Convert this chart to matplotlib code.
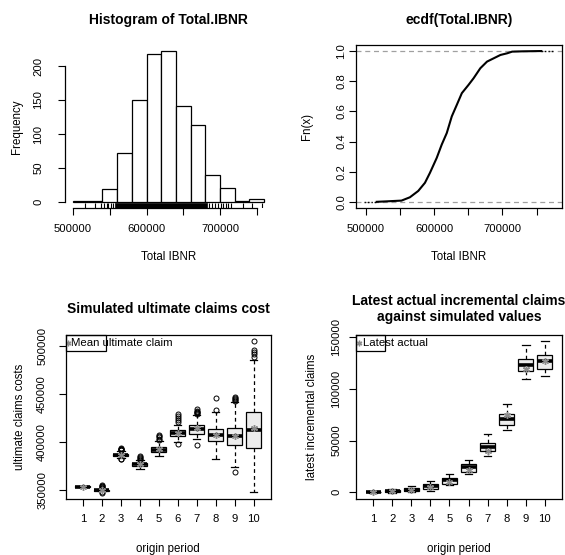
import matplotlib
matplotlib.use("Agg")
import matplotlib.pyplot as plt
from matplotlib.patches import Rectangle

plt.rcParams['font.family'] = ['Liberation Sans', 'DejaVu Sans']

# ---------------- data ----------------
hist_breaks = [500000, 520000, 540000, 560000, 580000, 600000, 620000, 640000,
               660000, 680000, 700000, 720000, 740000, 760000]
hist_counts = [1, 2, 19, 72, 150, 218, 222, 141, 113, 39, 20, 1, 4]

rug_sparse = [516300, 530000, 538000, 542600, 545800, 548000, 551300, 554000,
              685400, 688600, 693100, 697600, 701300, 704400, 708100, 711200,
              714500, 731600, 743000, 756600]
rug_dense_range = [557000, 682000]

ecdf_x = [516300, 530400, 552400, 564700, 576900, 586700, 594000, 603900, 611200,
          618600, 625900, 633300, 640600, 650400, 657800, 667600, 677400, 687200,
          697000, 706800, 714100, 728800, 743000, 756600]
ecdf_y = [0.001, 0.004, 0.009, 0.031, 0.073, 0.127, 0.193, 0.292, 0.380,
          0.457, 0.567, 0.644, 0.721, 0.776, 0.820, 0.886, 0.930, 0.952,
          0.974, 0.985, 0.996, 0.998, 0.999, 1.0]

origins = [1, 2, 3, 4, 5, 6, 7, 8, 9, 10]

ult_q1 = [353600, 349700, 386000, 375800, 390300, 407000, 409000, 401000, 397500, 394500]
ult_med = [353800, 350000, 387000, 377000, 392400, 410000, 414000, 407500, 406500, 413000]
ult_q3 = [354000, 350300, 388000, 378200, 394600, 413000, 418000, 413500, 415000, 431500]
ult_wlo = [353200, 349000, 383500, 372400, 385500, 400500, 403000, 383000, 374500, 348500]
ult_whi = [354400, 351000, 391000, 381500, 401000, 418000, 428000, 432000, 442000, 485500]
ult_fliers = [[],
              [352000, 352500, 353000, 354000, 355000, 355800, 348000, 347600],
              [391500, 392000, 392500, 393000, 393500, 394000, 383000, 382700],
              [382000, 383000, 384000, 385000, 386000],
              [402000, 403500, 405000, 406500, 408000],
              [421000, 423000, 425000, 427000, 429500, 398000],
              [429000, 430000, 431000, 432000, 433000, 434500, 397000],
              [434000, 446000],
              [443000, 444000, 445000, 446000, 447000, 369000],
              [489000, 491500, 493500, 495500, 505000]]
ult_mean = [353800, 350000, 387000, 377000, 392500, 410000, 414500, 408000, 407000, 414800]

inc_q1 = [0, 700, 1300, 3200, 8400, 20000, 39700, 65500, 117100, 119400]
inc_med = [200, 1300, 2600, 5800, 11600, 24500, 44000, 70500, 123500, 126800]
inc_q3 = [500, 2000, 3900, 8100, 14200, 27100, 47700, 75800, 129000, 133200]
inc_wlo = [-400, -300, 0, 1300, 7100, 17700, 35500, 60000, 109700, 112900]
inc_whi = [1200, 3200, 5800, 10600, 17700, 31600, 56500, 85200, 142300, 146100]
inc_actual = [300, 1300, 1900, 5200, 9700, 21900, 39700, 75200, 119400, 126800]

# ---------------- layout helpers ----------------
W, H, DPI = 565, 555, 100
fig = plt.figure(figsize=(W / DPI, H / DPI), dpi=DPI)


def add_ax(l, t, r, b):
    return fig.add_axes([l / W, 1 - b / H, (r - l) / W, (b - t) / H])


def ftext(x, y, s, **kw):
    fig.text(x / W, 1 - y / H, s, **kw)


TICK_FS = 8.1
TITLE_FS = 10.0
LAB_FS = 8.3
GRAY = '#8c8c8c'


def style(ax, ypad, xpad=6.5):
    ax.tick_params(direction='out', length=4.8, width=0.8, labelsize=TICK_FS,
                   color='black')
    ax.tick_params(axis='y', pad=ypad, labelrotation=90)
    ax.tick_params(axis='x', pad=xpad)
    for lbl in ax.get_yticklabels():
        lbl.set_va('center')
    for sp in ax.spines.values():
        sp.set_linewidth(0.9)


# ---------------- panel 1: histogram ----------------
ax1 = add_ax(65.4, 45, 271.8, 208)
lefts = hist_breaks[:-1]
widths = [hist_breaks[i + 1] - hist_breaks[i] for i in range(len(lefts))]
ax1.bar(lefts, hist_counts, width=widths, align='edge', facecolor='white',
        edgecolor='black', linewidth=0.9)
xr = hist_breaks[-1] - hist_breaks[0]
ax1.set_xlim(hist_breaks[0] - 0.04 * xr, hist_breaks[-1] + 0.04 * xr)
ymax = max(hist_counts)
ax1.set_ylim(-0.04 * ymax, ymax * 1.04)
ax1.vlines(rug_sparse, 0, 0.03, transform=ax1.get_xaxis_transform(),
           color='black', linewidth=0.8)
ax1.add_patch(Rectangle((rug_dense_range[0], 0), rug_dense_range[1] - rug_dense_range[0],
                        0.03, transform=ax1.get_xaxis_transform(),
                        facecolor='black', edgecolor='black', linewidth=0.5))
ax1.set_xticks([500000, 550000, 600000, 650000, 700000, 750000])
ax1.set_xticklabels(['500000', '', '600000', '', '700000', ''])
ax1.set_yticks([0, 50, 100, 150, 200])
ax1.spines['top'].set_visible(False)
ax1.spines['right'].set_visible(False)
ax1.spines['bottom'].set_bounds(500000, 750000)
ax1.spines['left'].set_bounds(0, 200)
style(ax1, ypad=11)
ftext(168.6, 20, 'Histogram of Total.IBNR', ha='center', va='center',
      fontsize=TITLE_FS, fontweight='bold')
ftext(168.6, 257, 'Total IBNR', ha='center', va='center', fontsize=LAB_FS)
ftext(17, 126.5, 'Frequency', ha='center', va='center', fontsize=LAB_FS, rotation=90)

# ---------------- panel 2: ecdf ----------------
ax2 = add_ax(356, 45, 562, 208)
kmin, kmax = ecdf_x[0], ecdf_x[-1]
dr = 0.08 * (kmax - kmin)
lo, hi = kmin - dr, kmax + dr
pad = 0.04 * (hi - lo)
ax2.set_xlim(lo - pad, hi + pad)
ax2.set_ylim(-0.04, 1.04)
ax2.axhline(0, color='#a0a0a0', linestyle=(0, (4, 3)), linewidth=0.9)
ax2.axhline(1, color='#a0a0a0', linestyle=(0, (4, 3)), linewidth=0.9)
ax2.plot([lo, kmin], [0, 0], color='black', linewidth=1.0, linestyle=(0, (1, 1.5)))
ax2.plot([kmax, hi], [1, 1], color='black', linewidth=1.0, linestyle=(0, (1, 1.5)))
ax2.plot(ecdf_x, ecdf_y, color='black', linewidth=1.5)
ax2.set_xticks([500000, 550000, 600000, 650000, 700000, 750000])
ax2.set_xticklabels(['500000', '', '600000', '', '700000', ''])
ax2.set_yticks([0, 0.2, 0.4, 0.6, 0.8, 1.0])
ax2.set_yticklabels(['0.0', '0.2', '0.4', '0.6', '0.8', '1.0'])
style(ax2, ypad=2)
ftext(459, 20, 'ecdf(Total.IBNR)', ha='center', va='center',
      fontsize=TITLE_FS, fontweight='bold')
ftext(459, 257, 'Total IBNR', ha='center', va='center', fontsize=LAB_FS)
ftext(307, 126.5, 'Fn(x)', ha='center', va='center', fontsize=LAB_FS, rotation=90)


# ---------------- boxplot helper ----------------
def draw_box(ax, q1, med, q3, wlo, whi, fliers, pts):
    stats = []
    for i in range(len(origins)):
        stats.append(dict(med=med[i], q1=q1[i], q3=q3[i], whislo=wlo[i],
                          whishi=whi[i], fliers=fliers[i], label=str(origins[i])))
    ax.bxp(stats, positions=origins, widths=0.8, patch_artist=True,
           showfliers=True, capwidths=0.4,
           boxprops=dict(facecolor='#ececec', edgecolor='black', linewidth=0.9),
           whiskerprops=dict(color='black', linestyle=(0, (3, 2.5)), linewidth=0.9),
           capprops=dict(color='black', linewidth=0.9),
           medianprops=dict(color='black', linewidth=2.6),
           flierprops=dict(marker='o', markersize=3.6, markerfacecolor='none',
                           markeredgecolor='black', markeredgewidth=0.7))
    ax.plot(origins, pts, linestyle='none', marker=(6, 2, 0), markersize=5,
            markeredgecolor=GRAY, markeredgewidth=1.0, color=GRAY, zorder=5)
    allv = list(wlo) + list(whi) + [v for f in fliers for v in f]
    vmin, vmax = min(allv), max(allv)
    ax.set_ylim(vmin - 0.04 * (vmax - vmin), vmax + 0.04 * (vmax - vmin))
    n = len(origins)
    ax.set_xlim(0.5 - 0.04 * n, n + 0.5 + 0.04 * n)
    ax.set_xticks(origins)
    ax.set_xticklabels([str(o) for o in origins])


# ---------------- panel 3 ----------------
ax3 = add_ax(65.7, 335.3, 270.7, 498.7)
draw_box(ax3, ult_q1, ult_med, ult_q3, ult_wlo, ult_whi, ult_fliers, ult_mean)
ax3.set_yticks([350000, 400000, 450000, 500000])
style(ax3, ypad=8.5)
ax3.add_patch(Rectangle((0, 1 - 0.096), 0.197, 0.096, transform=ax3.transAxes,
                        facecolor='none', edgecolor='black', linewidth=0.9,
                        clip_on=False))
ax3.plot([0.012], [0.952], transform=ax3.transAxes, marker=(6, 2, 0),
         markersize=4, markeredgecolor=GRAY, markeredgewidth=1.0, linestyle='none')
ax3.text(0.028, 0.952, 'Mean ultimate claim', transform=ax3.transAxes,
         ha='left', va='center', fontsize=8.2)
ftext(168.2, 309, 'Simulated ultimate claims cost', ha='center', va='center',
      fontsize=TITLE_FS, fontweight='bold')
ftext(168.2, 548.7, 'origin period', ha='center', va='center', fontsize=LAB_FS)
ftext(20, 417, 'ultimate claims costs', ha='center', va='center', fontsize=LAB_FS,
      rotation=90)

# ---------------- panel 4 ----------------
ax4 = add_ax(356, 335.3, 562, 498.7)
draw_box(ax4, inc_q1, inc_med, inc_q3, inc_wlo, inc_whi, [[] for _ in origins],
         inc_actual)
ax4.set_yticks([0, 50000, 100000, 150000])
style(ax4, ypad=5.8)
ax4.add_patch(Rectangle((0, 1 - 0.096), 0.142, 0.096, transform=ax4.transAxes,
                        facecolor='none', edgecolor='black', linewidth=0.9,
                        clip_on=False))
ax4.plot([0.014], [0.952], transform=ax4.transAxes, marker=(6, 2, 0),
         markersize=4, markeredgecolor=GRAY, markeredgewidth=1.0, linestyle='none')
ax4.text(0.034, 0.952, 'Latest actual', transform=ax4.transAxes,
         ha='left', va='center', fontsize=8.2)
ftext(459, 301, 'Latest actual incremental claims', ha='center', va='center',
      fontsize=TITLE_FS, fontweight='bold')
ftext(459, 317, 'against simulated values', ha='center', va='center',
      fontsize=TITLE_FS, fontweight='bold')
ftext(459, 548.7, 'origin period', ha='center', va='center', fontsize=LAB_FS)
ftext(312, 417, 'latest incremental claims', ha='center', va='center',
      fontsize=LAB_FS, rotation=90)

fig.savefig('out.png', dpi=DPI)
